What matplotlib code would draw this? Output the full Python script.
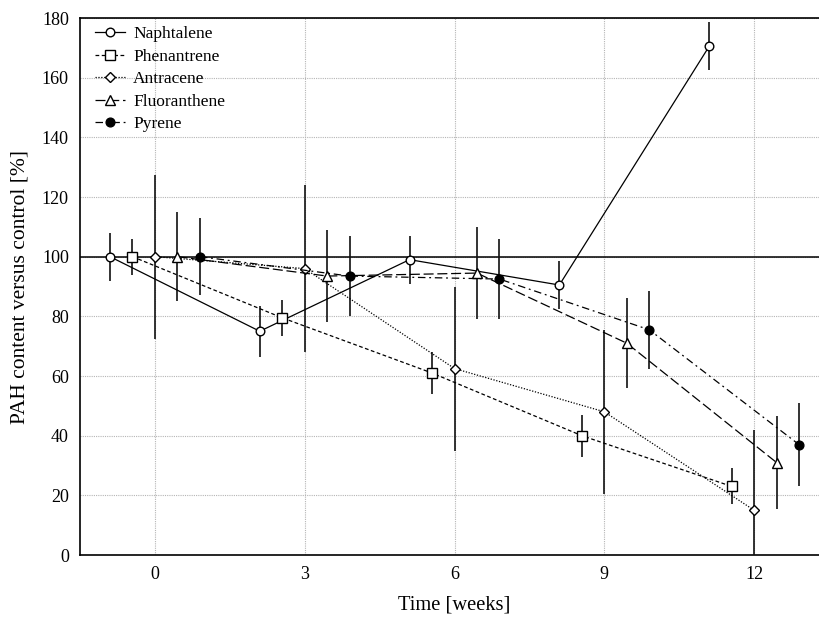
import matplotlib
matplotlib.use("Agg")
import matplotlib.pyplot as plt
import numpy as np

weeks = [0, 3, 6, 9, 12]
tick_labels = ["0", "3", "6", "9", "12"]
series_names = ["Naphtalene", "Phenantrene", "Antracene", "Fluoranthene", "Pyrene"]
offsets = [-0.9, -0.45, 0.0, 0.45, 0.9]

naphtalene = [100, 75, 99, 90.5, 170.5]
naphtalene_err = [8, 8.5, 8, 8, 8]
phenantrene = [100, 79.5, 61, 40, 23]
phenantrene_err = [6, 6, 7, 7, 6]
antracene = [100, 96, 62.5, 48, 15]
antracene_err = [27.5, 28, 27.5, 27.5, 27]
fluoranthene = [100, 93.5, 94.5, 71, 31]
fluoranthene_err = [15, 15.5, 15.5, 15, 15.5]
pyrene = [100, 93.5, 92.5, 75.5, 37]
pyrene_err = [13, 13.5, 13.5, 13, 14]

values = [naphtalene, phenantrene, antracene, fluoranthene, pyrene]
errors = [naphtalene_err, phenantrene_err, antracene_err, fluoranthene_err, pyrene_err]
markers = ["o", "s", "D", "^", "o"]
msizes = [6.2, 6.5, 5.5, 7.5, 6.3]
faces = ["white", "white", "white", "white", "black"]
styles = ["-", (0, (3, 2)), (0, (1, 1.3)), (0, (8, 3)), (0, (6, 3, 1.5, 3))]

plt.rcParams['font.family'] = ['Liberation Serif', 'DejaVu Serif']

fig = plt.figure(figsize=(8.19, 6.18), dpi=100)
W, H = 819, 618
left, right, top, bottom = 80, 829, 18, 555
ax = fig.add_axes([left / W, 1 - bottom / H, (right - left) / W, (bottom - top) / H])

ax.set_xlim(-1.5, 13.5)
ax.set_ylim(0, 180)
ax.set_xticks(weeks)
ax.set_xticklabels(tick_labels)
ax.set_yticks(np.arange(0, 181, 20))
ax.tick_params(length=0, labelsize=13, pad=8)
ax.grid(True, linestyle=(0, (1, 1)), color="#b5b5b5", linewidth=0.8)
ax.set_axisbelow(True)
ax.spines['right'].set_visible(False)
for s in ['left', 'bottom', 'top']:
    ax.spines[s].set_linewidth(1.2)

ax.axhline(100, color="black", linewidth=1.1, zorder=2)

handles = []
for name, vals, errs, off, mk, ms, fc, ls in zip(series_names, values, errors, offsets,
                                                  markers, msizes, faces, styles):
    xs = [w + off for w in weeks]
    ax.errorbar(xs, vals, yerr=errs, fmt="none", ecolor="#111111", elinewidth=1.2,
                capsize=0, zorder=3)
    h, = ax.plot(xs, vals, linestyle=ls, color="black", linewidth=0.9, marker=mk,
                 markersize=ms, markerfacecolor=fc, markeredgecolor="black",
                 markeredgewidth=1.0, zorder=4, label=name)
    handles.append(h)

ax.set_xlabel("Time [weeks]", fontsize=14.8, labelpad=9)
ax.set_ylabel("PAH content versus control [%]", fontsize=15.5, labelpad=9)

fig.legend(handles=handles, loc="upper left", bbox_to_anchor=(95 / W, 1 - 26 / H),
           bbox_transform=fig.transFigure, frameon=False, fontsize=12.5,
           handlelength=1.7, handletextpad=0.5, labelspacing=0.37, borderpad=0,
           borderaxespad=0)

fig.savefig("out.png", dpi=100)
